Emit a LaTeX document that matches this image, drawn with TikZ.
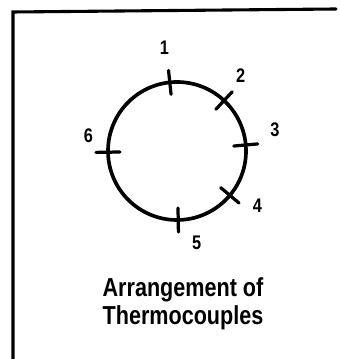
\documentclass[tikz,border=0pt]{standalone}
\usepackage{fontspec}
\newfontfamily\handfont{Liberation Sans}[FakeStretch=0.83]
\usetikzlibrary{calc}

\begin{document}
\begin{tikzpicture}[x=0.025cm, y=0.025cm,
    frameline/.style={line width=2.2pt, line cap=round},
    ringline/.style={line width=2.6pt},
    tickline/.style={line width=2.3pt, line cap=round},
    tclabel/.style={font=\handfont\fontsize{14}{16}\selectfont\bfseries, inner sep=0pt},
    caption/.style={font=\handfont\fontsize{18.5}{20}\selectfont\bfseries, align=center, inner sep=0pt}]
      \useasboundingbox (0,0) rectangle (340,359);
      % open frame, left and top side only
      \draw[frameline] (13,0) -- (13,347) -- (336,350);
      \coordinate (ring) at (177,208);
      \draw[ringline] (ring) circle [radius=69];
      % thermocouple marks: angle / label angle / label distance / number
      \foreach \a/\la/\ld/\n in {96/97/104/1, 47/50/99/2, 5/12/100/3,
                                 -40/-34/97/4, -89/-78/94/5, 181/170/90/6} {
        \draw[tickline] ($(ring)+(\a:57)$) -- ($(ring)+(\a:81)$);
        \node[tclabel] (t\n) at ($(ring)+(\la:\ld)$) {\n};
      }
      \node[caption] (caption) at (183,55) {Arrangement of\\Thermocouples};
    \end{tikzpicture}
\end{document}
